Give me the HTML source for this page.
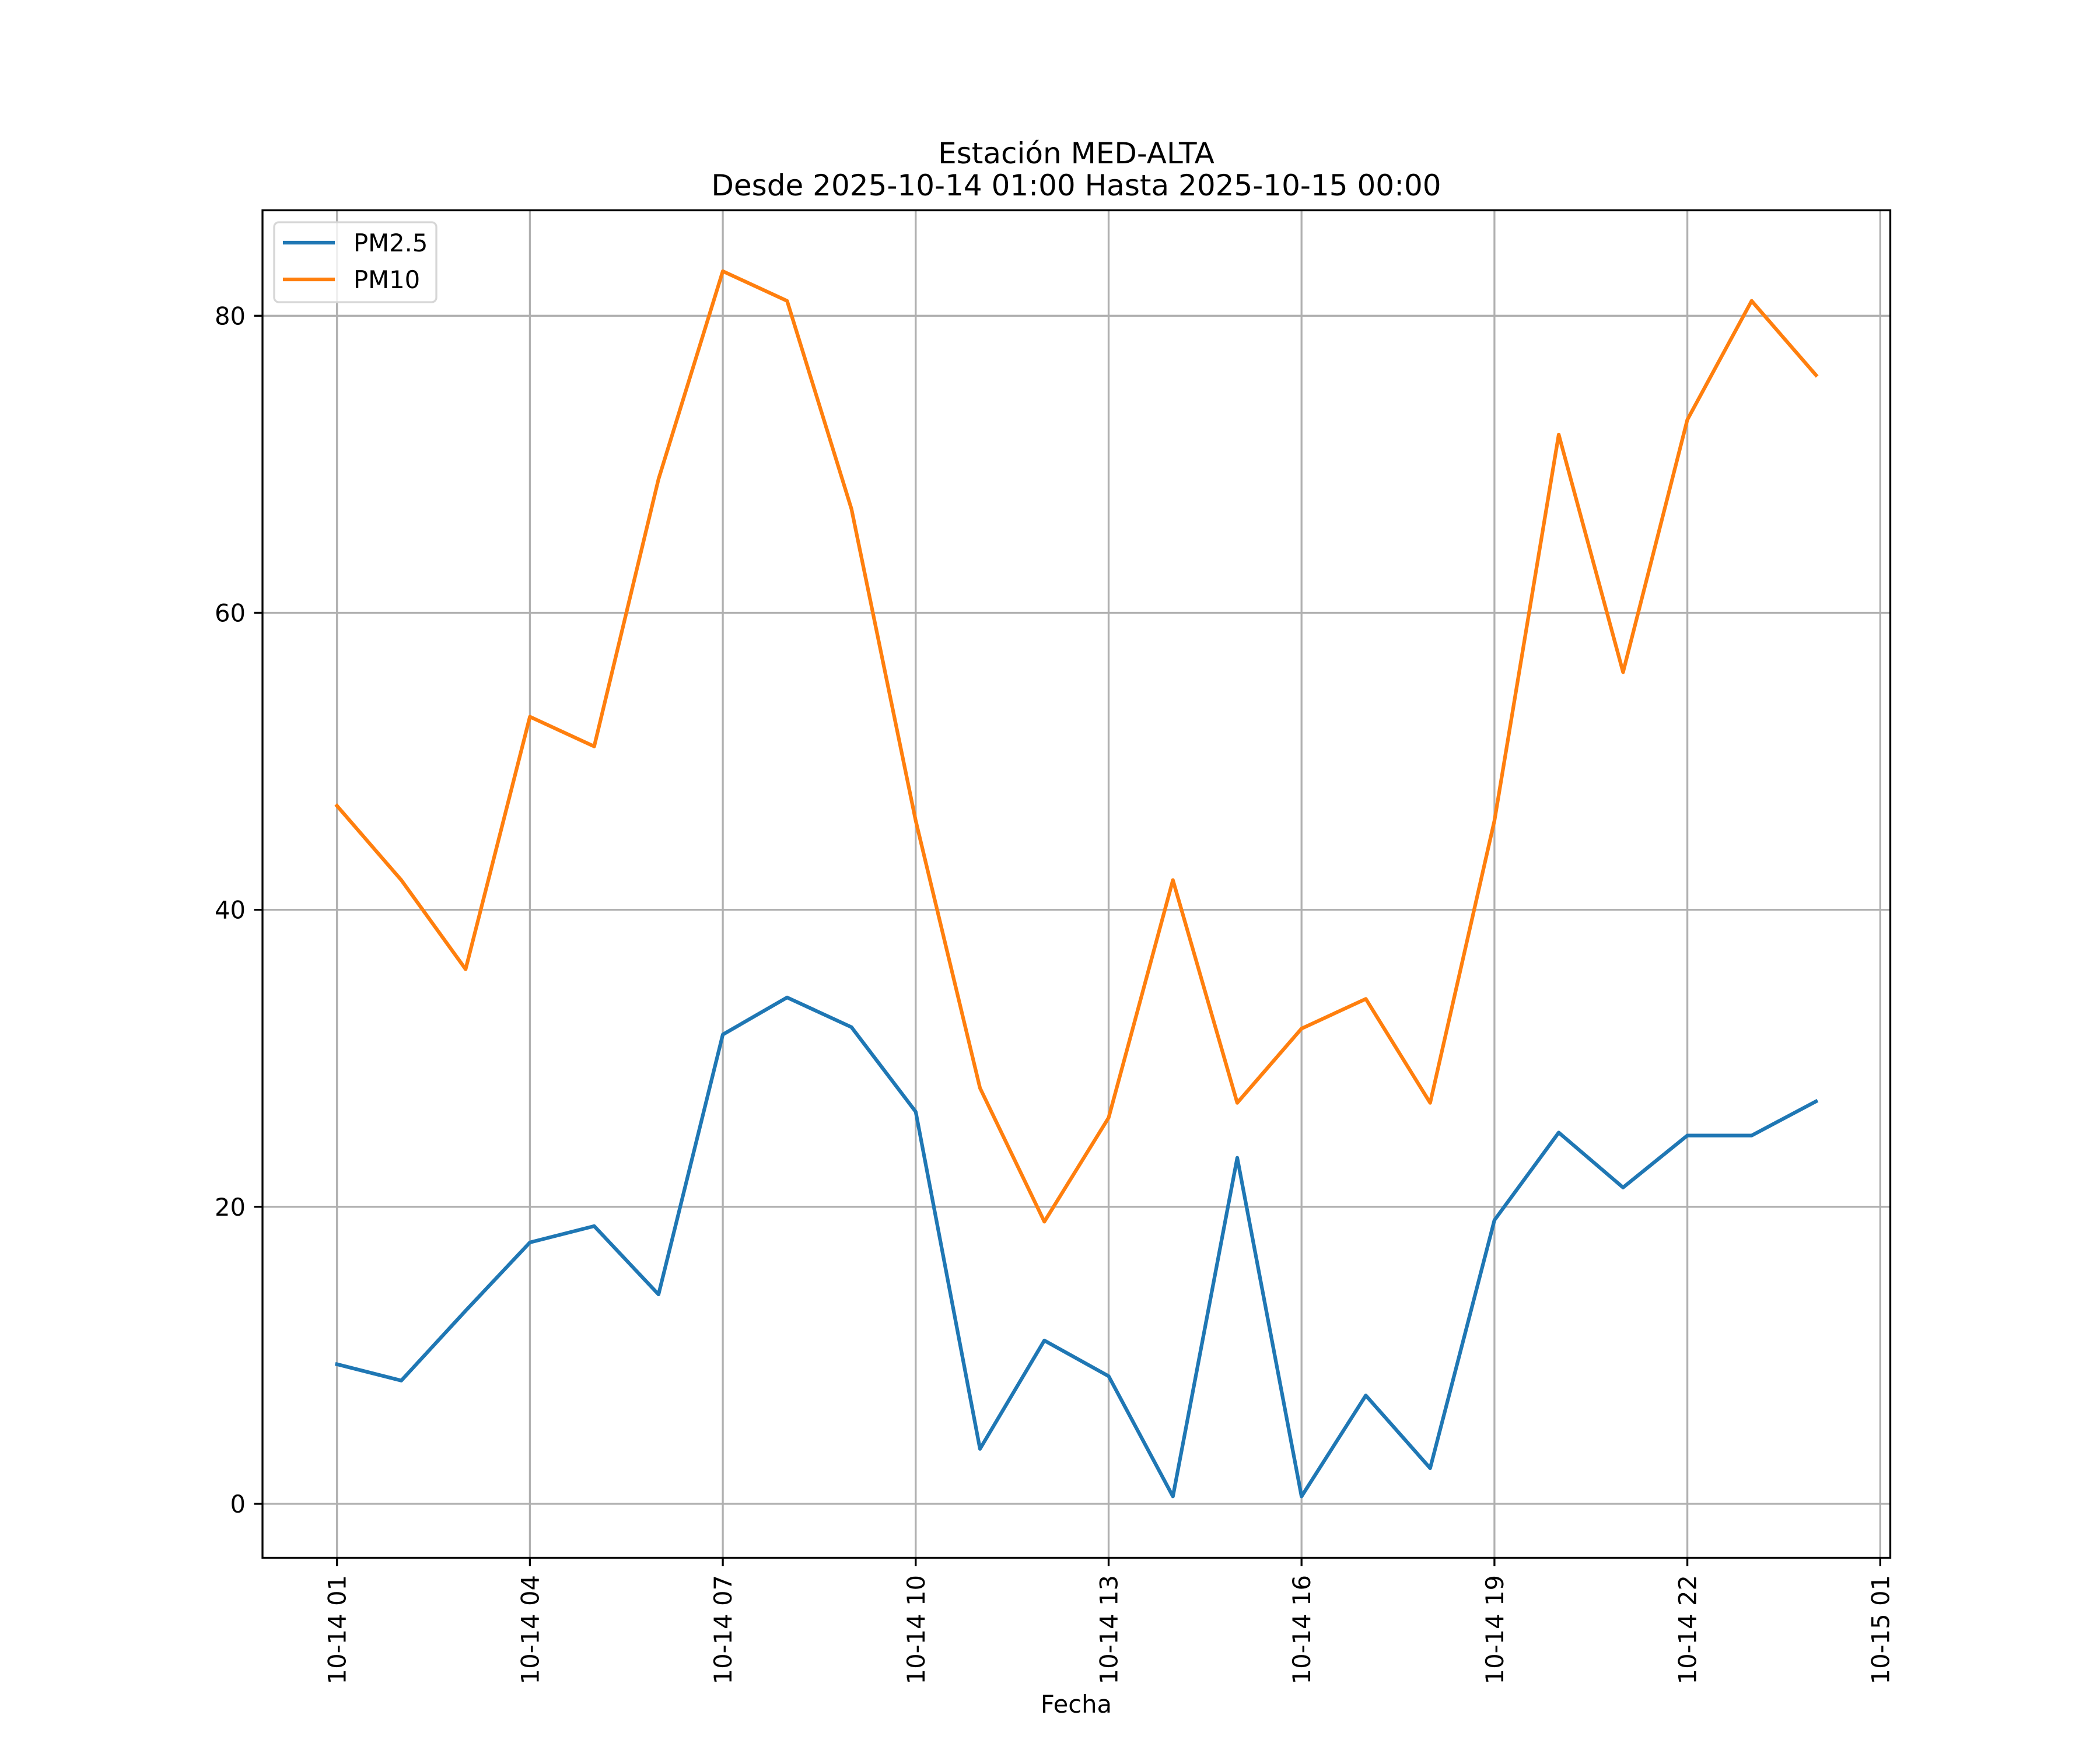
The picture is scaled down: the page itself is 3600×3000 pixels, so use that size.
<!DOCTYPE html>
<html><head><meta charset="utf-8"><style>
html,body{margin:0;padding:0;background:#fff;}
svg{display:block;font-family:"DejaVu Sans","Liberation Sans",sans-serif;}
</style></head><body>
<svg id="chart" width="3600" height="3000" viewBox="0 0 3600 3000">
<rect x="0" y="0" width="3600" height="3000" fill="#fff"/>
<text x="1845" y="280" font-size="50" text-anchor="middle">Estación MED-ALTA</text>
<text x="1845" y="335" font-size="50" text-anchor="middle">Desde 2025-10-14 01:00 Hasta 2025-10-15 00:00</text>
<g id="grid"></g>
<g id="series"></g>
<rect x="450" y="360.5" width="2790.5" height="2310" fill="none" stroke="#000" stroke-width="3.3"/>
<g id="ticks"></g>
<text x="1845" y="2936" font-size="41.7" text-anchor="middle">Fecha</text>
<g>
<rect x="470" y="381" width="278" height="137" rx="8" fill="#fff" fill-opacity="0.8" stroke="#d6d6d6" stroke-width="3.3"/>
<line x1="485" y1="416" x2="574" y2="416" stroke="#1f77b4" stroke-width="6.25"/>
<text x="606" y="431" font-size="41.7">PM2.5</text>
<line x1="485" y1="479" x2="574" y2="479" stroke="#ff7f0e" stroke-width="6.25"/>
<text x="606" y="494" font-size="41.7">PM10</text>
</g>
</svg>
<script>
const hours = [1,2,3,4,5,6,7,8,9,10,11,12,13,14,15,16,17,18,19,20,21,22,23,24];
const pm25 = [9.4,8.3,13,17.6,18.7,14.1,31.6,34.1,32.1,26.4,3.7,11,8.6,0.5,23.3,0.5,7.3,2.4,19.1,25,21.3,24.8,24.8,27.1];
const pm10 = [47,42,36,53,51,69,83,81,67,46,28,19,26,42,27,32,34,27,46,72,56,73,81,76];
const xTickHours = [1,4,7,10,13,16,19,22,25];
const xTickLabels = ["10-14 01","10-14 04","10-14 07","10-14 10","10-14 13","10-14 16","10-14 19","10-14 22","10-15 01"];
const yTicks = [0,20,40,60,80];

const NS = "http://www.w3.org/2000/svg";
function xs(h){ return 577.7 + (h-1)*(3223.3-577.7)/24; }
function ys(v){ return 2578 - v*(2578-541.3)/80; }
function mk(tag, attrs, parent){
  const e = document.createElementNS(NS, tag);
  for (const k in attrs) e.setAttribute(k, attrs[k]);
  parent.appendChild(e); return e;
}
const grid = document.getElementById('grid');
const ticks = document.getElementById('ticks');
const series = document.getElementById('series');

xTickHours.forEach((h,i)=>{
  const x = xs(h);
  const g = mk('line',{x1:x,y1:360.5,x2:x,y2:2670.5,stroke:'#b0b0b0','stroke-width':3.3},grid);
  
  
  const t = mk('line',{x1:x,y1:2670.5,x2:x,y2:2685,stroke:'#000','stroke-width':3.3},ticks);
  
  
  const l = mk('text',{x:0,y:0,'font-size':41.7,'text-anchor':'end',transform:`translate(${x+15},2700) rotate(-90)`},ticks);
  l.textContent = xTickLabels[i];
  
  
});
yTicks.forEach(v=>{
  const y = ys(v);
  const g = mk('line',{x1:450,y1:y,x2:3240.5,y2:y,stroke:'#b0b0b0','stroke-width':3.3},grid);
  
  
  const t = mk('line',{x1:435.5,y1:y,x2:450,y2:y,stroke:'#000','stroke-width':3.3},ticks);
  
  
  const l = mk('text',{x:421,y:y+15,'font-size':41.7,'text-anchor':'end'},ticks);
  l.textContent = String(v);
  
  
});
function drawLine(vals,color,name){
  const pts = vals.map((v,i)=>xs(hours[i]).toFixed(1)+','+ys(v).toFixed(1)).join(' ');
  const p = mk('polyline',{points:pts,fill:'none',stroke:color,'stroke-width':6.25,'stroke-linejoin':'round','stroke-linecap':'square'},series);
  
  
}
drawLine(pm25,'#1f77b4','pm25-line');
drawLine(pm10,'#ff7f0e','pm10-line');
</script>
</body></html>
